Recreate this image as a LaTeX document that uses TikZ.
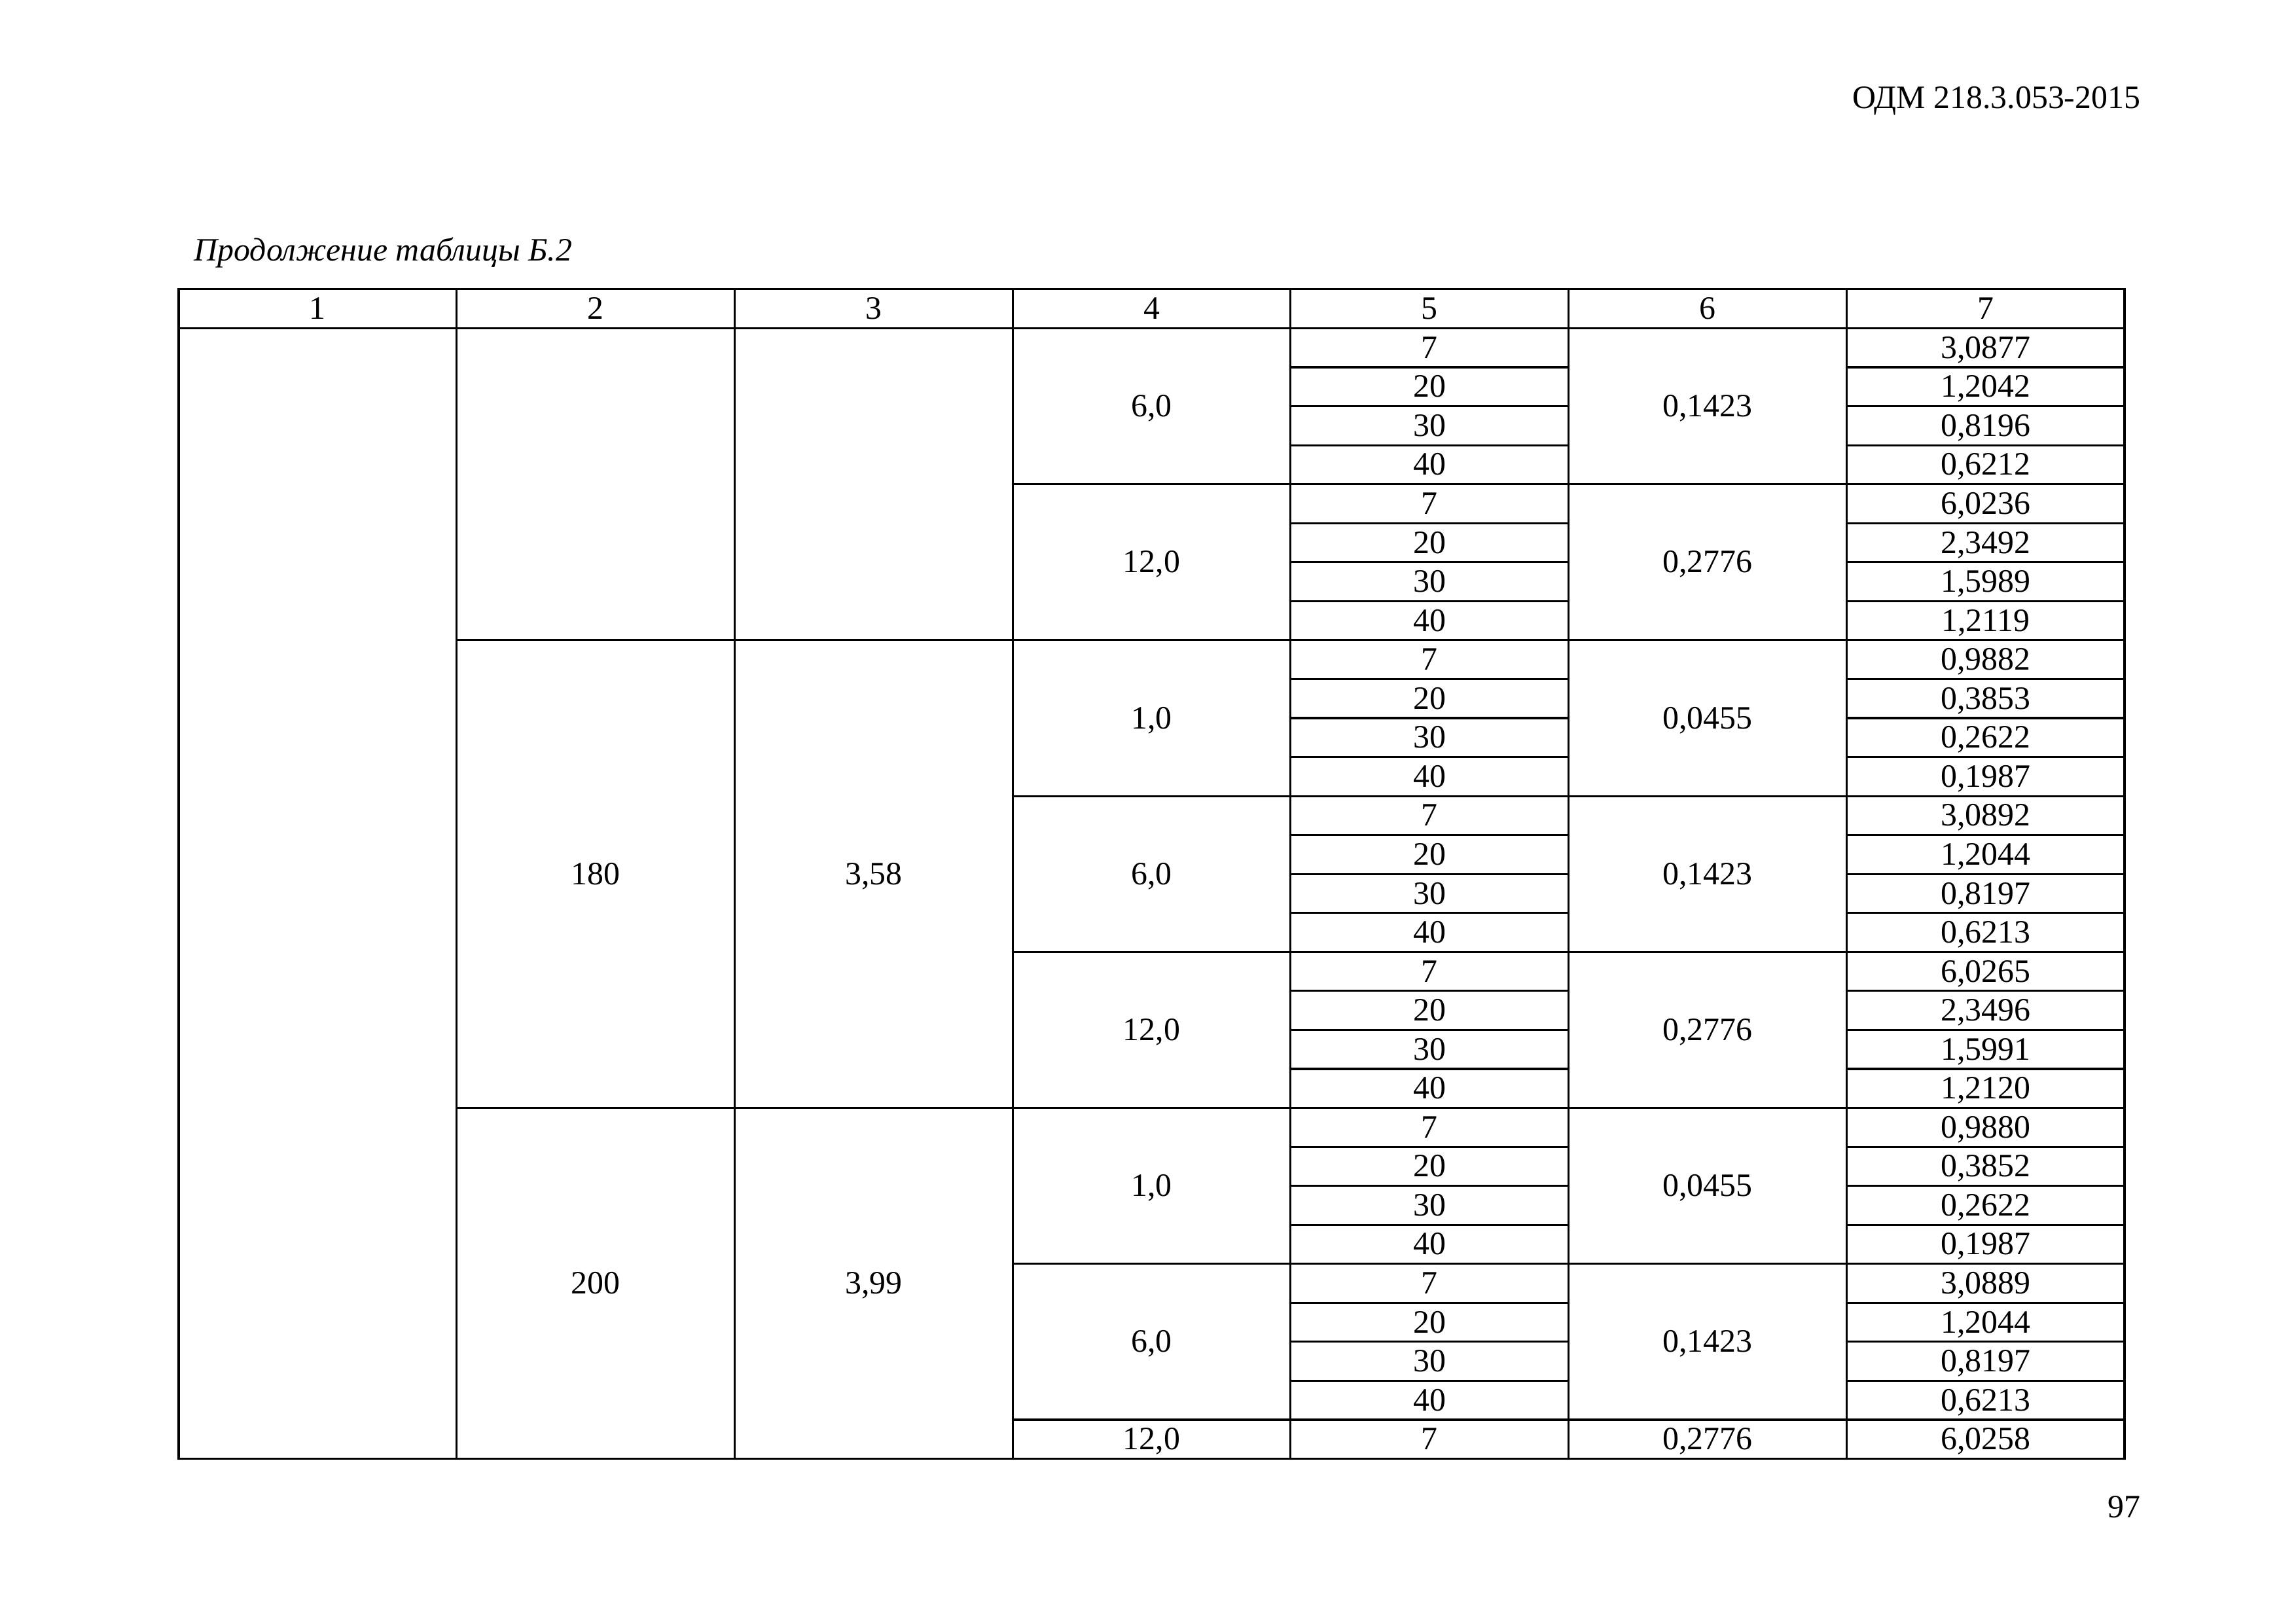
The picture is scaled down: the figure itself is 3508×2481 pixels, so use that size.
\documentclass[tikz,border=0pt]{standalone}
\usepackage{fontspec}
\setmainfont{Liberation Serif}
\begin{document}
\begin{tikzpicture}[x=0.08466mm,y=-0.08466mm,
  grid/.style={line width=0.75pt},
  cell/.style={anchor=base, inner sep=0pt, font=\fontsize{12pt}{14pt}\selectfont}]
\useasboundingbox (0,0) rectangle (3508,2481);
\def\cw{424.714}
\def\rh{59.552}
\def\rt{501.5}
% page header, caption, page number
\node[cell, anchor=base east] (hdr) at (3271,166) {ОДМ 218.3.053-2015};
\node[cell, anchor=base west, font=\fontsize{12pt}{14pt}\selectfont\itshape] (cap) at (296,399) {Продолжение таблицы Б.2};
\node[cell, anchor=base east] (pg) at (3271,2318) {97};
% frame and grid
\draw[grid] (273,441.7) rectangle (3246,2228.5);
\draw[grid] (273,\rt) -- (3246,\rt);
\foreach \k in {1,...,6}
  \draw[grid] ({273+\k*\cw},441.7) -- ({273+\k*\cw},2228.5);
\foreach \i in {1,...,28} {
  \pgfmathsetmacro\yy{\rt+\i*\rh}
  \pgfmathtruncatemacro\m{mod(\i,4)}
  \ifnum\i=8
    \draw[grid] ({273+\cw},\yy) -- (3246,\yy);
  \else\ifnum\i=20
    \draw[grid] ({273+\cw},\yy) -- (3246,\yy);
  \else\ifnum\m=0
    \draw[grid] ({273+3*\cw},\yy) -- (3246,\yy);
  \else
    \draw[grid] ({273+4*\cw},\yy) -- ({273+5*\cw},\yy);
    \draw[grid] ({273+6*\cw},\yy) -- (3246,\yy);
  \fi\fi\fi
}
% header numbers
\foreach \k in {1,...,7}
  \node[cell] (h\k) at ({273+(\k-0.5)*\cw},487.6) {\k};
% column 2 and 3
\node[cell] (c2a) at ({273+1.5*\cw},{\rt+14*\rh+16}) {180};
\node[cell] (c3a) at ({273+2.5*\cw},{\rt+14*\rh+16}) {3,58};
\node[cell] (c2b) at ({273+1.5*\cw},{\rt+24.5*\rh+16}) {200};
\node[cell] (c3b) at ({273+2.5*\cw},{\rt+24.5*\rh+16}) {3,99};
% column 4 and 6 groups
\foreach \p/\q [count=\j from 0] in {6/1423,12/2776,1/0455,6/1423,12/2776,1/0455,6/1423} {
  \node[cell] (c4-\j) at ({273+3.5*\cw},{\rt+(4*\j+2)*\rh+16}) {\p,0};
  \node[cell] (c6-\j) at ({273+5.5*\cw},{\rt+(4*\j+2)*\rh+16}) {0,\q};
}
\node[cell] (c4-7) at ({273+3.5*\cw},{\rt+28.5*\rh+16}) {12,0};
\node[cell] (c6-7) at ({273+5.5*\cw},{\rt+28.5*\rh+16}) {0,2776};
% column 5
\foreach \v [count=\i from 0] in {7,20,30,40,7,20,30,40,7,20,30,40,7,20,30,40,
  7,20,30,40,7,20,30,40,7,20,30,40,7}
  \node[cell] (c5-\i) at ({273+4.5*\cw},{\rt+(\i+0.5)*\rh+16}) {\v};
% column 7
\foreach \a/\b [count=\i from 0] in {3/0877,1/2042,0/8196,0/6212,6/0236,2/3492,1/5989,1/2119,
  0/9882,0/3853,0/2622,0/1987,3/0892,1/2044,0/8197,0/6213,6/0265,2/3496,1/5991,1/2120,
  0/9880,0/3852,0/2622,0/1987,3/0889,1/2044,0/8197,0/6213,6/0258}
  \node[cell] (c7-\i) at ({273+6.5*\cw},{\rt+(\i+0.5)*\rh+16}) {\a,\b};
\end{tikzpicture}
\end{document}
